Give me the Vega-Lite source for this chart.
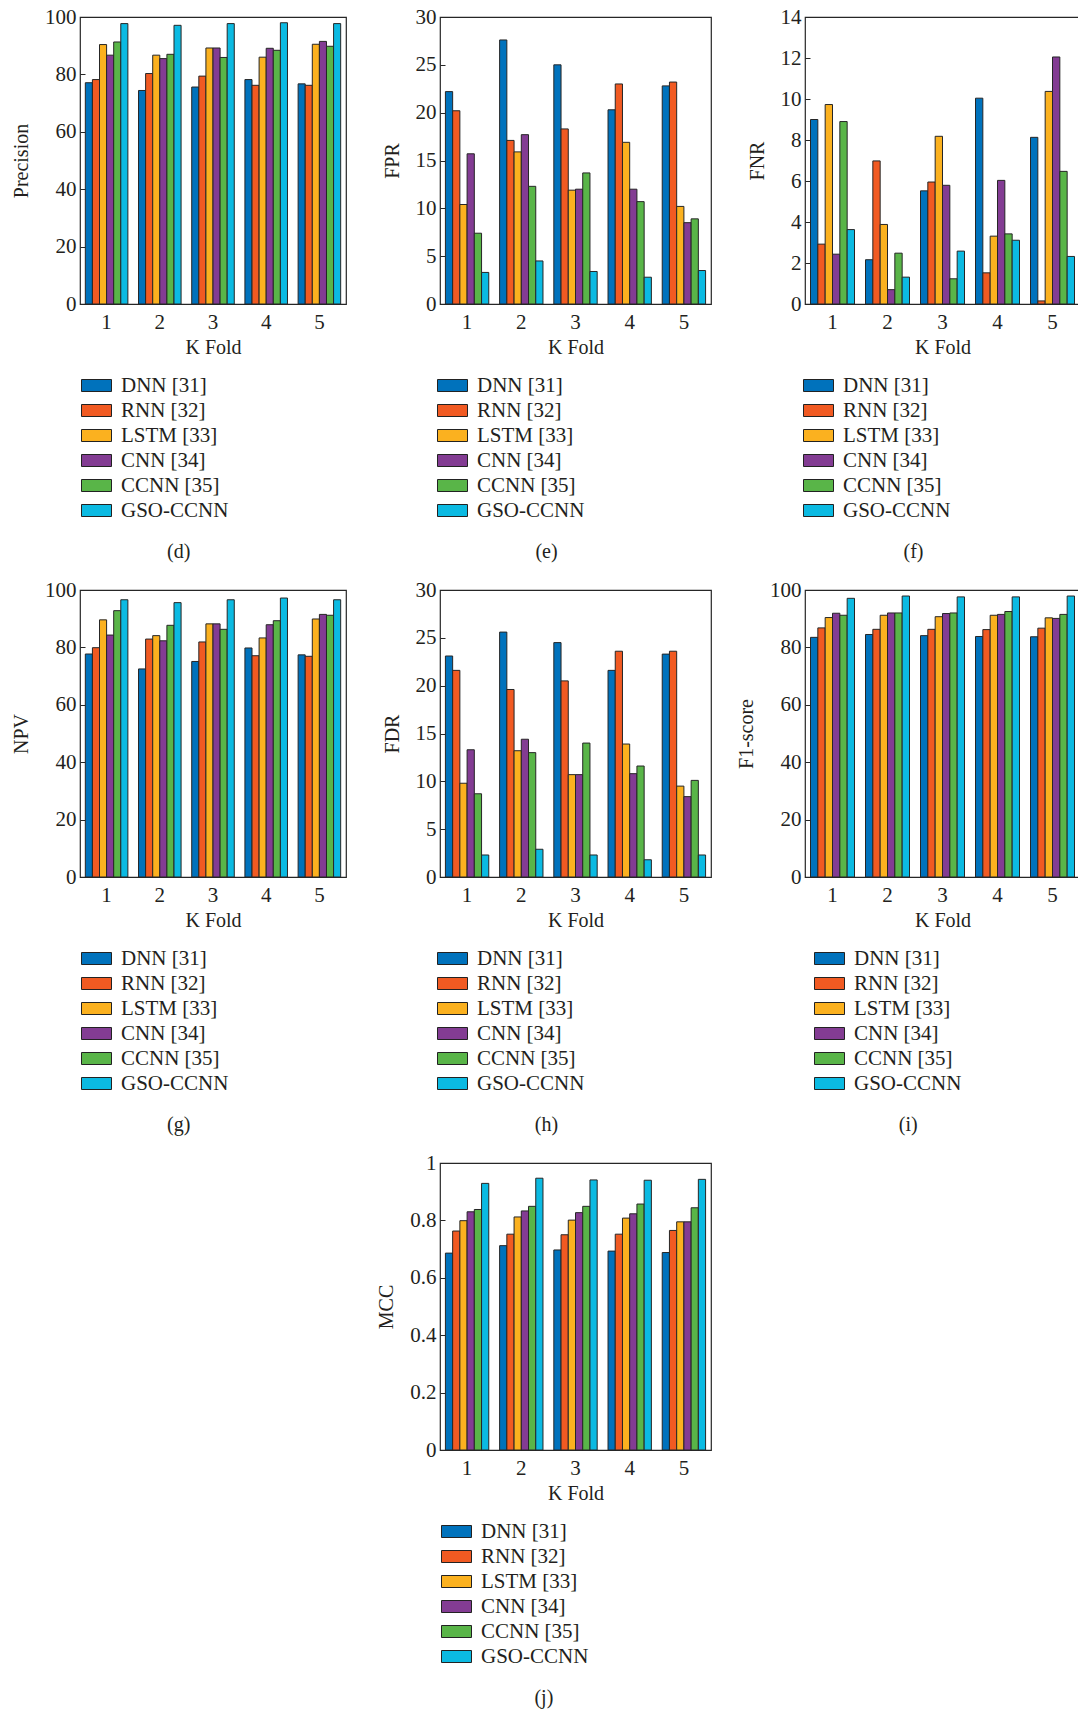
{
  "$schema": "https://vega.github.io/schema/vega-lite/v6.json",
  "background": "white",
  "padding": {"left": 10, "top": 5, "right": 0, "bottom": 0},
  "autosize": {"type": "pad"},
  "columns": 3,
  "bounds": "flush",
  "spacing": {"row": 286, "column": 94},
  "resolve": {
    "scale": {"color": "independent", "x": "independent", "y": "independent", "xOffset": "independent"},
    "legend": {"color": "independent"},
    "axis": {"x": "independent", "y": "independent"}
  },
  "datasets": {
    "scores": [
      {"metric": "Precision", "fold": 1, "model": "DNN [31]", "value": 77.1},
      {"metric": "Precision", "fold": 1, "model": "RNN [32]", "value": 78.2},
      {"metric": "Precision", "fold": 1, "model": "LSTM [33]", "value": 90.4},
      {"metric": "Precision", "fold": 1, "model": "CNN [34]", "value": 86.7},
      {"metric": "Precision", "fold": 1, "model": "CCNN [35]", "value": 91.3},
      {"metric": "Precision", "fold": 1, "model": "GSO-CCNN", "value": 97.7},
      {"metric": "Precision", "fold": 2, "model": "DNN [31]", "value": 74.4},
      {"metric": "Precision", "fold": 2, "model": "RNN [32]", "value": 80.3},
      {"metric": "Precision", "fold": 2, "model": "LSTM [33]", "value": 86.7},
      {"metric": "Precision", "fold": 2, "model": "CNN [34]", "value": 85.5},
      {"metric": "Precision", "fold": 2, "model": "CCNN [35]", "value": 87.0},
      {"metric": "Precision", "fold": 2, "model": "GSO-CCNN", "value": 97.1},
      {"metric": "Precision", "fold": 3, "model": "DNN [31]", "value": 75.6},
      {"metric": "Precision", "fold": 3, "model": "RNN [32]", "value": 79.4},
      {"metric": "Precision", "fold": 3, "model": "LSTM [33]", "value": 89.2},
      {"metric": "Precision", "fold": 3, "model": "CNN [34]", "value": 89.2},
      {"metric": "Precision", "fold": 3, "model": "CCNN [35]", "value": 85.9},
      {"metric": "Precision", "fold": 3, "model": "GSO-CCNN", "value": 97.7},
      {"metric": "Precision", "fold": 4, "model": "DNN [31]", "value": 78.2},
      {"metric": "Precision", "fold": 4, "model": "RNN [32]", "value": 76.2},
      {"metric": "Precision", "fold": 4, "model": "LSTM [33]", "value": 86.0},
      {"metric": "Precision", "fold": 4, "model": "CNN [34]", "value": 89.1},
      {"metric": "Precision", "fold": 4, "model": "CCNN [35]", "value": 88.4},
      {"metric": "Precision", "fold": 4, "model": "GSO-CCNN", "value": 98.0},
      {"metric": "Precision", "fold": 5, "model": "DNN [31]", "value": 76.7},
      {"metric": "Precision", "fold": 5, "model": "RNN [32]", "value": 76.2},
      {"metric": "Precision", "fold": 5, "model": "LSTM [33]", "value": 90.5},
      {"metric": "Precision", "fold": 5, "model": "CNN [34]", "value": 91.5},
      {"metric": "Precision", "fold": 5, "model": "CCNN [35]", "value": 89.8},
      {"metric": "Precision", "fold": 5, "model": "GSO-CCNN", "value": 97.7},

      {"metric": "FPR", "fold": 1, "model": "DNN [31]", "value": 22.2},
      {"metric": "FPR", "fold": 1, "model": "RNN [32]", "value": 20.2},
      {"metric": "FPR", "fold": 1, "model": "LSTM [33]", "value": 10.4},
      {"metric": "FPR", "fold": 1, "model": "CNN [34]", "value": 15.7},
      {"metric": "FPR", "fold": 1, "model": "CCNN [35]", "value": 7.4},
      {"metric": "FPR", "fold": 1, "model": "GSO-CCNN", "value": 3.3},
      {"metric": "FPR", "fold": 2, "model": "DNN [31]", "value": 27.6},
      {"metric": "FPR", "fold": 2, "model": "RNN [32]", "value": 17.1},
      {"metric": "FPR", "fold": 2, "model": "LSTM [33]", "value": 15.9},
      {"metric": "FPR", "fold": 2, "model": "CNN [34]", "value": 17.7},
      {"metric": "FPR", "fold": 2, "model": "CCNN [35]", "value": 12.3},
      {"metric": "FPR", "fold": 2, "model": "GSO-CCNN", "value": 4.5},
      {"metric": "FPR", "fold": 3, "model": "DNN [31]", "value": 25.0},
      {"metric": "FPR", "fold": 3, "model": "RNN [32]", "value": 18.3},
      {"metric": "FPR", "fold": 3, "model": "LSTM [33]", "value": 11.9},
      {"metric": "FPR", "fold": 3, "model": "CNN [34]", "value": 12.0},
      {"metric": "FPR", "fold": 3, "model": "CCNN [35]", "value": 13.7},
      {"metric": "FPR", "fold": 3, "model": "GSO-CCNN", "value": 3.4},
      {"metric": "FPR", "fold": 4, "model": "DNN [31]", "value": 20.3},
      {"metric": "FPR", "fold": 4, "model": "RNN [32]", "value": 23.0},
      {"metric": "FPR", "fold": 4, "model": "LSTM [33]", "value": 16.9},
      {"metric": "FPR", "fold": 4, "model": "CNN [34]", "value": 12.0},
      {"metric": "FPR", "fold": 4, "model": "CCNN [35]", "value": 10.7},
      {"metric": "FPR", "fold": 4, "model": "GSO-CCNN", "value": 2.8},
      {"metric": "FPR", "fold": 5, "model": "DNN [31]", "value": 22.8},
      {"metric": "FPR", "fold": 5, "model": "RNN [32]", "value": 23.2},
      {"metric": "FPR", "fold": 5, "model": "LSTM [33]", "value": 10.2},
      {"metric": "FPR", "fold": 5, "model": "CNN [34]", "value": 8.5},
      {"metric": "FPR", "fold": 5, "model": "CCNN [35]", "value": 8.9},
      {"metric": "FPR", "fold": 5, "model": "GSO-CCNN", "value": 3.5},

      {"metric": "FNR", "fold": 1, "model": "DNN [31]", "value": 9.0},
      {"metric": "FNR", "fold": 1, "model": "RNN [32]", "value": 2.92},
      {"metric": "FNR", "fold": 1, "model": "LSTM [33]", "value": 9.73},
      {"metric": "FNR", "fold": 1, "model": "CNN [34]", "value": 2.43},
      {"metric": "FNR", "fold": 1, "model": "CCNN [35]", "value": 8.9},
      {"metric": "FNR", "fold": 1, "model": "GSO-CCNN", "value": 3.63},
      {"metric": "FNR", "fold": 2, "model": "DNN [31]", "value": 2.16},
      {"metric": "FNR", "fold": 2, "model": "RNN [32]", "value": 6.98},
      {"metric": "FNR", "fold": 2, "model": "LSTM [33]", "value": 3.88},
      {"metric": "FNR", "fold": 2, "model": "CNN [34]", "value": 0.7},
      {"metric": "FNR", "fold": 2, "model": "CCNN [35]", "value": 2.48},
      {"metric": "FNR", "fold": 2, "model": "GSO-CCNN", "value": 1.31},
      {"metric": "FNR", "fold": 3, "model": "DNN [31]", "value": 5.52},
      {"metric": "FNR", "fold": 3, "model": "RNN [32]", "value": 5.95},
      {"metric": "FNR", "fold": 3, "model": "LSTM [33]", "value": 8.18},
      {"metric": "FNR", "fold": 3, "model": "CNN [34]", "value": 5.79},
      {"metric": "FNR", "fold": 3, "model": "CCNN [35]", "value": 1.23},
      {"metric": "FNR", "fold": 3, "model": "GSO-CCNN", "value": 2.58},
      {"metric": "FNR", "fold": 4, "model": "DNN [31]", "value": 10.04},
      {"metric": "FNR", "fold": 4, "model": "RNN [32]", "value": 1.52},
      {"metric": "FNR", "fold": 4, "model": "LSTM [33]", "value": 3.31},
      {"metric": "FNR", "fold": 4, "model": "CNN [34]", "value": 6.03},
      {"metric": "FNR", "fold": 4, "model": "CCNN [35]", "value": 3.42},
      {"metric": "FNR", "fold": 4, "model": "GSO-CCNN", "value": 3.11},
      {"metric": "FNR", "fold": 5, "model": "DNN [31]", "value": 8.13},
      {"metric": "FNR", "fold": 5, "model": "RNN [32]", "value": 0.15},
      {"metric": "FNR", "fold": 5, "model": "LSTM [33]", "value": 10.37},
      {"metric": "FNR", "fold": 5, "model": "CNN [34]", "value": 12.05},
      {"metric": "FNR", "fold": 5, "model": "CCNN [35]", "value": 6.47},
      {"metric": "FNR", "fold": 5, "model": "GSO-CCNN", "value": 2.32},

      {"metric": "NPV", "fold": 1, "model": "DNN [31]", "value": 77.7},
      {"metric": "NPV", "fold": 1, "model": "RNN [32]", "value": 79.9},
      {"metric": "NPV", "fold": 1, "model": "LSTM [33]", "value": 89.6},
      {"metric": "NPV", "fold": 1, "model": "CNN [34]", "value": 84.3},
      {"metric": "NPV", "fold": 1, "model": "CCNN [35]", "value": 92.8},
      {"metric": "NPV", "fold": 1, "model": "GSO-CCNN", "value": 96.6},
      {"metric": "NPV", "fold": 2, "model": "DNN [31]", "value": 72.5},
      {"metric": "NPV", "fold": 2, "model": "RNN [32]", "value": 82.9},
      {"metric": "NPV", "fold": 2, "model": "LSTM [33]", "value": 84.1},
      {"metric": "NPV", "fold": 2, "model": "CNN [34]", "value": 82.3},
      {"metric": "NPV", "fold": 2, "model": "CCNN [35]", "value": 87.7},
      {"metric": "NPV", "fold": 2, "model": "GSO-CCNN", "value": 95.6},
      {"metric": "NPV", "fold": 3, "model": "DNN [31]", "value": 75.1},
      {"metric": "NPV", "fold": 3, "model": "RNN [32]", "value": 81.9},
      {"metric": "NPV", "fold": 3, "model": "LSTM [33]", "value": 88.2},
      {"metric": "NPV", "fold": 3, "model": "CNN [34]", "value": 88.2},
      {"metric": "NPV", "fold": 3, "model": "CCNN [35]", "value": 86.3},
      {"metric": "NPV", "fold": 3, "model": "GSO-CCNN", "value": 96.6},
      {"metric": "NPV", "fold": 4, "model": "DNN [31]", "value": 79.8},
      {"metric": "NPV", "fold": 4, "model": "RNN [32]", "value": 77.1},
      {"metric": "NPV", "fold": 4, "model": "LSTM [33]", "value": 83.3},
      {"metric": "NPV", "fold": 4, "model": "CNN [34]", "value": 87.9},
      {"metric": "NPV", "fold": 4, "model": "CCNN [35]", "value": 89.3},
      {"metric": "NPV", "fold": 4, "model": "GSO-CCNN", "value": 97.2},
      {"metric": "NPV", "fold": 5, "model": "DNN [31]", "value": 77.4},
      {"metric": "NPV", "fold": 5, "model": "RNN [32]", "value": 76.9},
      {"metric": "NPV", "fold": 5, "model": "LSTM [33]", "value": 89.9},
      {"metric": "NPV", "fold": 5, "model": "CNN [34]", "value": 91.5},
      {"metric": "NPV", "fold": 5, "model": "CCNN [35]", "value": 91.2},
      {"metric": "NPV", "fold": 5, "model": "GSO-CCNN", "value": 96.6},

      {"metric": "FDR", "fold": 1, "model": "DNN [31]", "value": 23.1},
      {"metric": "FDR", "fold": 1, "model": "RNN [32]", "value": 21.6},
      {"metric": "FDR", "fold": 1, "model": "LSTM [33]", "value": 9.8},
      {"metric": "FDR", "fold": 1, "model": "CNN [34]", "value": 13.3},
      {"metric": "FDR", "fold": 1, "model": "CCNN [35]", "value": 8.7},
      {"metric": "FDR", "fold": 1, "model": "GSO-CCNN", "value": 2.3},
      {"metric": "FDR", "fold": 2, "model": "DNN [31]", "value": 25.6},
      {"metric": "FDR", "fold": 2, "model": "RNN [32]", "value": 19.6},
      {"metric": "FDR", "fold": 2, "model": "LSTM [33]", "value": 13.2},
      {"metric": "FDR", "fold": 2, "model": "CNN [34]", "value": 14.4},
      {"metric": "FDR", "fold": 2, "model": "CCNN [35]", "value": 13.0},
      {"metric": "FDR", "fold": 2, "model": "GSO-CCNN", "value": 2.9},
      {"metric": "FDR", "fold": 3, "model": "DNN [31]", "value": 24.5},
      {"metric": "FDR", "fold": 3, "model": "RNN [32]", "value": 20.5},
      {"metric": "FDR", "fold": 3, "model": "LSTM [33]", "value": 10.7},
      {"metric": "FDR", "fold": 3, "model": "CNN [34]", "value": 10.7},
      {"metric": "FDR", "fold": 3, "model": "CCNN [35]", "value": 14.0},
      {"metric": "FDR", "fold": 3, "model": "GSO-CCNN", "value": 2.3},
      {"metric": "FDR", "fold": 4, "model": "DNN [31]", "value": 21.6},
      {"metric": "FDR", "fold": 4, "model": "RNN [32]", "value": 23.6},
      {"metric": "FDR", "fold": 4, "model": "LSTM [33]", "value": 13.9},
      {"metric": "FDR", "fold": 4, "model": "CNN [34]", "value": 10.8},
      {"metric": "FDR", "fold": 4, "model": "CCNN [35]", "value": 11.6},
      {"metric": "FDR", "fold": 4, "model": "GSO-CCNN", "value": 1.8},
      {"metric": "FDR", "fold": 5, "model": "DNN [31]", "value": 23.3},
      {"metric": "FDR", "fold": 5, "model": "RNN [32]", "value": 23.6},
      {"metric": "FDR", "fold": 5, "model": "LSTM [33]", "value": 9.5},
      {"metric": "FDR", "fold": 5, "model": "CNN [34]", "value": 8.4},
      {"metric": "FDR", "fold": 5, "model": "CCNN [35]", "value": 10.1},
      {"metric": "FDR", "fold": 5, "model": "GSO-CCNN", "value": 2.3},

      {"metric": "F1-score", "fold": 1, "model": "DNN [31]", "value": 83.5},
      {"metric": "F1-score", "fold": 1, "model": "RNN [32]", "value": 86.8},
      {"metric": "F1-score", "fold": 1, "model": "LSTM [33]", "value": 90.4},
      {"metric": "F1-score", "fold": 1, "model": "CNN [34]", "value": 91.9},
      {"metric": "F1-score", "fold": 1, "model": "CCNN [35]", "value": 91.2},
      {"metric": "F1-score", "fold": 1, "model": "GSO-CCNN", "value": 97.1},
      {"metric": "F1-score", "fold": 2, "model": "DNN [31]", "value": 84.5},
      {"metric": "F1-score", "fold": 2, "model": "RNN [32]", "value": 86.3},
      {"metric": "F1-score", "fold": 2, "model": "LSTM [33]", "value": 91.2},
      {"metric": "F1-score", "fold": 2, "model": "CNN [34]", "value": 92.0},
      {"metric": "F1-score", "fold": 2, "model": "CCNN [35]", "value": 92.0},
      {"metric": "F1-score", "fold": 2, "model": "GSO-CCNN", "value": 97.9},
      {"metric": "F1-score", "fold": 3, "model": "DNN [31]", "value": 84.1},
      {"metric": "F1-score", "fold": 3, "model": "RNN [32]", "value": 86.3},
      {"metric": "F1-score", "fold": 3, "model": "LSTM [33]", "value": 90.7},
      {"metric": "F1-score", "fold": 3, "model": "CNN [34]", "value": 91.8},
      {"metric": "F1-score", "fold": 3, "model": "CCNN [35]", "value": 92.0},
      {"metric": "F1-score", "fold": 3, "model": "GSO-CCNN", "value": 97.6},
      {"metric": "F1-score", "fold": 4, "model": "DNN [31]", "value": 83.8},
      {"metric": "F1-score", "fold": 4, "model": "RNN [32]", "value": 86.2},
      {"metric": "F1-score", "fold": 4, "model": "LSTM [33]", "value": 91.2},
      {"metric": "F1-score", "fold": 4, "model": "CNN [34]", "value": 91.5},
      {"metric": "F1-score", "fold": 4, "model": "CCNN [35]", "value": 92.5},
      {"metric": "F1-score", "fold": 4, "model": "GSO-CCNN", "value": 97.6},
      {"metric": "F1-score", "fold": 5, "model": "DNN [31]", "value": 83.7},
      {"metric": "F1-score", "fold": 5, "model": "RNN [32]", "value": 86.7},
      {"metric": "F1-score", "fold": 5, "model": "LSTM [33]", "value": 90.3},
      {"metric": "F1-score", "fold": 5, "model": "CNN [34]", "value": 90.1},
      {"metric": "F1-score", "fold": 5, "model": "CCNN [35]", "value": 91.5},
      {"metric": "F1-score", "fold": 5, "model": "GSO-CCNN", "value": 97.9},

      {"metric": "MCC", "fold": 1, "model": "DNN [31]", "value": 0.686},
      {"metric": "MCC", "fold": 1, "model": "RNN [32]", "value": 0.763},
      {"metric": "MCC", "fold": 1, "model": "LSTM [33]", "value": 0.799},
      {"metric": "MCC", "fold": 1, "model": "CNN [34]", "value": 0.83},
      {"metric": "MCC", "fold": 1, "model": "CCNN [35]", "value": 0.838},
      {"metric": "MCC", "fold": 1, "model": "GSO-CCNN", "value": 0.929},
      {"metric": "MCC", "fold": 2, "model": "DNN [31]", "value": 0.712},
      {"metric": "MCC", "fold": 2, "model": "RNN [32]", "value": 0.752},
      {"metric": "MCC", "fold": 2, "model": "LSTM [33]", "value": 0.812},
      {"metric": "MCC", "fold": 2, "model": "CNN [34]", "value": 0.833},
      {"metric": "MCC", "fold": 2, "model": "CCNN [35]", "value": 0.849},
      {"metric": "MCC", "fold": 2, "model": "GSO-CCNN", "value": 0.947},
      {"metric": "MCC", "fold": 3, "model": "DNN [31]", "value": 0.697},
      {"metric": "MCC", "fold": 3, "model": "RNN [32]", "value": 0.75},
      {"metric": "MCC", "fold": 3, "model": "LSTM [33]", "value": 0.801},
      {"metric": "MCC", "fold": 3, "model": "CNN [34]", "value": 0.827},
      {"metric": "MCC", "fold": 3, "model": "CCNN [35]", "value": 0.849},
      {"metric": "MCC", "fold": 3, "model": "GSO-CCNN", "value": 0.941},
      {"metric": "MCC", "fold": 4, "model": "DNN [31]", "value": 0.693},
      {"metric": "MCC", "fold": 4, "model": "RNN [32]", "value": 0.752},
      {"metric": "MCC", "fold": 4, "model": "LSTM [33]", "value": 0.808},
      {"metric": "MCC", "fold": 4, "model": "CNN [34]", "value": 0.823},
      {"metric": "MCC", "fold": 4, "model": "CCNN [35]", "value": 0.857},
      {"metric": "MCC", "fold": 4, "model": "GSO-CCNN", "value": 0.94},
      {"metric": "MCC", "fold": 5, "model": "DNN [31]", "value": 0.688},
      {"metric": "MCC", "fold": 5, "model": "RNN [32]", "value": 0.765},
      {"metric": "MCC", "fold": 5, "model": "LSTM [33]", "value": 0.795},
      {"metric": "MCC", "fold": 5, "model": "CNN [34]", "value": 0.795},
      {"metric": "MCC", "fold": 5, "model": "CCNN [35]", "value": 0.844},
      {"metric": "MCC", "fold": 5, "model": "GSO-CCNN", "value": 0.943}
    ]
  },
  "concat": [
    {
      "width": 266, "height": 287,
      "data": {"name": "scores"},
      "transform": [{"filter": "datum.metric === 'Precision'"}],
      "mark": {"type": "bar", "stroke": "#262626", "strokeWidth": 1},
      "encoding": {
        "x": {"field": "fold", "type": "ordinal", "scale": {"paddingInner": 0.2, "paddingOuter": 0.1}, "axis": {"title": "K Fold"}},
        "xOffset": {"field": "model", "type": "nominal", "sort": ["DNN [31]", "RNN [32]", "LSTM [33]", "CNN [34]", "CCNN [35]", "GSO-CCNN"], "scale": {"paddingInner": 0, "paddingOuter": 0}},
        "y": {"field": "value", "type": "quantitative", "scale": {"domain": [0, 100], "nice": false}, "axis": {"title": "Precision", "values": [0, 20, 40, 60, 80, 100]}},
        "color": {"field": "model", "type": "nominal", "sort": ["DNN [31]", "RNN [32]", "LSTM [33]", "CNN [34]", "CCNN [35]", "GSO-CCNN"], "scale": {"domain": ["DNN [31]", "RNN [32]", "LSTM [33]", "CNN [34]", "CCNN [35]", "GSO-CCNN"], "range": ["#0072BC", "#F15A22", "#FBB11F", "#833C93", "#59B548", "#0BBAE2"]}, "legend": {"title": null, "orient": "none", "legendX": 1, "legendY": 356}}
      },
      "title": {"text": "(d)"}
    },
    {
      "width": 271, "height": 287,
      "data": {"name": "scores"},
      "transform": [{"filter": "datum.metric === 'FPR'"}],
      "mark": {"type": "bar", "stroke": "#262626", "strokeWidth": 1},
      "encoding": {
        "x": {"field": "fold", "type": "ordinal", "scale": {"paddingInner": 0.2, "paddingOuter": 0.1}, "axis": {"title": "K Fold"}},
        "xOffset": {"field": "model", "type": "nominal", "sort": ["DNN [31]", "RNN [32]", "LSTM [33]", "CNN [34]", "CCNN [35]", "GSO-CCNN"], "scale": {"paddingInner": 0, "paddingOuter": 0}},
        "y": {"field": "value", "type": "quantitative", "scale": {"domain": [0, 30], "nice": false}, "axis": {"title": "FPR", "values": [0, 5, 10, 15, 20, 25, 30]}},
        "color": {"field": "model", "type": "nominal", "sort": ["DNN [31]", "RNN [32]", "LSTM [33]", "CNN [34]", "CCNN [35]", "GSO-CCNN"], "scale": {"domain": ["DNN [31]", "RNN [32]", "LSTM [33]", "CNN [34]", "CCNN [35]", "GSO-CCNN"], "range": ["#0072BC", "#F15A22", "#FBB11F", "#833C93", "#59B548", "#0BBAE2"]}, "legend": {"title": null, "orient": "none", "legendX": -3, "legendY": 356}}
      },
      "title": {"text": "(e)"}
    },
    {
      "width": 275, "height": 287,
      "data": {"name": "scores"},
      "transform": [{"filter": "datum.metric === 'FNR'"}],
      "mark": {"type": "bar", "stroke": "#262626", "strokeWidth": 1},
      "encoding": {
        "x": {"field": "fold", "type": "ordinal", "scale": {"paddingInner": 0.2, "paddingOuter": 0.1}, "axis": {"title": "K Fold"}},
        "xOffset": {"field": "model", "type": "nominal", "sort": ["DNN [31]", "RNN [32]", "LSTM [33]", "CNN [34]", "CCNN [35]", "GSO-CCNN"], "scale": {"paddingInner": 0, "paddingOuter": 0}},
        "y": {"field": "value", "type": "quantitative", "scale": {"domain": [0, 14], "nice": false}, "axis": {"title": "FNR", "values": [0, 2, 4, 6, 8, 10, 12, 14]}},
        "color": {"field": "model", "type": "nominal", "sort": ["DNN [31]", "RNN [32]", "LSTM [33]", "CNN [34]", "CCNN [35]", "GSO-CCNN"], "scale": {"domain": ["DNN [31]", "RNN [32]", "LSTM [33]", "CNN [34]", "CCNN [35]", "GSO-CCNN"], "range": ["#0072BC", "#F15A22", "#FBB11F", "#833C93", "#59B548", "#0BBAE2"]}, "legend": {"title": null, "orient": "none", "legendX": -2, "legendY": 356}}
      },
      "title": {"text": "(f)"}
    },
    {
      "width": 266, "height": 287,
      "data": {"name": "scores"},
      "transform": [{"filter": "datum.metric === 'NPV'"}],
      "mark": {"type": "bar", "stroke": "#262626", "strokeWidth": 1},
      "encoding": {
        "x": {"field": "fold", "type": "ordinal", "scale": {"paddingInner": 0.2, "paddingOuter": 0.1}, "axis": {"title": "K Fold"}},
        "xOffset": {"field": "model", "type": "nominal", "sort": ["DNN [31]", "RNN [32]", "LSTM [33]", "CNN [34]", "CCNN [35]", "GSO-CCNN"], "scale": {"paddingInner": 0, "paddingOuter": 0}},
        "y": {"field": "value", "type": "quantitative", "scale": {"domain": [0, 100], "nice": false}, "axis": {"title": "NPV", "values": [0, 20, 40, 60, 80, 100]}},
        "color": {"field": "model", "type": "nominal", "sort": ["DNN [31]", "RNN [32]", "LSTM [33]", "CNN [34]", "CCNN [35]", "GSO-CCNN"], "scale": {"domain": ["DNN [31]", "RNN [32]", "LSTM [33]", "CNN [34]", "CCNN [35]", "GSO-CCNN"], "range": ["#0072BC", "#F15A22", "#FBB11F", "#833C93", "#59B548", "#0BBAE2"]}, "legend": {"title": null, "orient": "none", "legendX": 1, "legendY": 356}}
      },
      "title": {"text": "(g)"}
    },
    {
      "width": 271, "height": 287,
      "data": {"name": "scores"},
      "transform": [{"filter": "datum.metric === 'FDR'"}],
      "mark": {"type": "bar", "stroke": "#262626", "strokeWidth": 1},
      "encoding": {
        "x": {"field": "fold", "type": "ordinal", "scale": {"paddingInner": 0.2, "paddingOuter": 0.1}, "axis": {"title": "K Fold"}},
        "xOffset": {"field": "model", "type": "nominal", "sort": ["DNN [31]", "RNN [32]", "LSTM [33]", "CNN [34]", "CCNN [35]", "GSO-CCNN"], "scale": {"paddingInner": 0, "paddingOuter": 0}},
        "y": {"field": "value", "type": "quantitative", "scale": {"domain": [0, 30], "nice": false}, "axis": {"title": "FDR", "values": [0, 5, 10, 15, 20, 25, 30]}},
        "color": {"field": "model", "type": "nominal", "sort": ["DNN [31]", "RNN [32]", "LSTM [33]", "CNN [34]", "CCNN [35]", "GSO-CCNN"], "scale": {"domain": ["DNN [31]", "RNN [32]", "LSTM [33]", "CNN [34]", "CCNN [35]", "GSO-CCNN"], "range": ["#0072BC", "#F15A22", "#FBB11F", "#833C93", "#59B548", "#0BBAE2"]}, "legend": {"title": null, "orient": "none", "legendX": -3, "legendY": 356}}
      },
      "title": {"text": "(h)"}
    },
    {
      "width": 275, "height": 287,
      "data": {"name": "scores"},
      "transform": [{"filter": "datum.metric === 'F1-score'"}],
      "mark": {"type": "bar", "stroke": "#262626", "strokeWidth": 1},
      "encoding": {
        "x": {"field": "fold", "type": "ordinal", "scale": {"paddingInner": 0.2, "paddingOuter": 0.1}, "axis": {"title": "K Fold"}},
        "xOffset": {"field": "model", "type": "nominal", "sort": ["DNN [31]", "RNN [32]", "LSTM [33]", "CNN [34]", "CCNN [35]", "GSO-CCNN"], "scale": {"paddingInner": 0, "paddingOuter": 0}},
        "y": {"field": "value", "type": "quantitative", "scale": {"domain": [0, 100], "nice": false}, "axis": {"title": "F1-score", "values": [0, 20, 40, 60, 80, 100]}},
        "color": {"field": "model", "type": "nominal", "sort": ["DNN [31]", "RNN [32]", "LSTM [33]", "CNN [34]", "CCNN [35]", "GSO-CCNN"], "scale": {"domain": ["DNN [31]", "RNN [32]", "LSTM [33]", "CNN [34]", "CCNN [35]", "GSO-CCNN"], "range": ["#0072BC", "#F15A22", "#FBB11F", "#833C93", "#59B548", "#0BBAE2"]}, "legend": {"title": null, "orient": "none", "legendX": 9, "legendY": 356}}
      },
      "title": {"text": "(i)"}
    },
    {
      "width": 266, "height": 287,
      "data": {"values": []},
      "mark": "point",
      "view": {"stroke": null}
    },
    {
      "width": 271, "height": 287,
      "data": {"name": "scores"},
      "transform": [{"filter": "datum.metric === 'MCC'"}],
      "mark": {"type": "bar", "stroke": "#262626", "strokeWidth": 1},
      "encoding": {
        "x": {"field": "fold", "type": "ordinal", "scale": {"paddingInner": 0.2, "paddingOuter": 0.1}, "axis": {"title": "K Fold"}},
        "xOffset": {"field": "model", "type": "nominal", "sort": ["DNN [31]", "RNN [32]", "LSTM [33]", "CNN [34]", "CCNN [35]", "GSO-CCNN"], "scale": {"paddingInner": 0, "paddingOuter": 0}},
        "y": {"field": "value", "type": "quantitative", "scale": {"domain": [0, 1], "nice": false}, "axis": {"title": "MCC", "values": [0, 0.2, 0.4, 0.6, 0.8, 1], "format": "~g"}},
        "color": {"field": "model", "type": "nominal", "sort": ["DNN [31]", "RNN [32]", "LSTM [33]", "CNN [34]", "CCNN [35]", "GSO-CCNN"], "scale": {"domain": ["DNN [31]", "RNN [32]", "LSTM [33]", "CNN [34]", "CCNN [35]", "GSO-CCNN"], "range": ["#0072BC", "#F15A22", "#FBB11F", "#833C93", "#59B548", "#0BBAE2"]}, "legend": {"title": null, "orient": "none", "legendX": 1, "legendY": 356}}
      },
      "title": {"text": "(j)"}
    }
  ],
  "config": {
    "font": "Liberation Serif",
    "view": {"stroke": "#262626", "strokeWidth": 1.2},
    "axis": {
      "labelFont": "Liberation Serif", "titleFont": "Liberation Serif",
      "labelFontSize": 21, "titleFontSize": 20, "titleFontWeight": "normal",
      "labelColor": "#231f20", "titleColor": "#231f20",
      "domain": false, "grid": false,
      "tickSize": -5, "tickColor": "#262626", "tickWidth": 1
    },
    "axisX": {"labelAngle": 0, "labelPadding": 12, "titlePadding": 5},
    "axisY": {"labelPadding": 9, "titlePadding": 13},
    "legend": {
      "direction": "vertical",
      "symbolType": "M-1,-0.4H1V0.4H-1Z",
      "symbolSize": 900,
      "symbolStrokeColor": "#222222",
      "symbolStrokeWidth": 1,
      "symbolOpacity": 1,
      "labelFont": "Liberation Serif",
      "labelFontSize": 21,
      "labelColor": "#231f20",
      "labelOffset": 9,
      "clipHeight": 25,
      "rowPadding": 0
    },
    "title": {
      "orient": "bottom", "frame": "bounds", "anchor": "middle",
      "offset": 19, "fontSize": 20, "fontWeight": "normal",
      "font": "Liberation Serif", "color": "#231f20"
    }
  }
}
